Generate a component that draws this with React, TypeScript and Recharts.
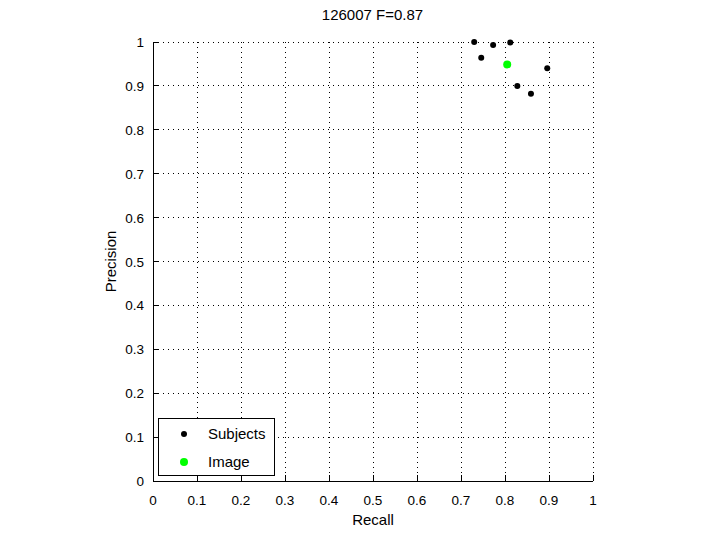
import React from 'react';
import { ScatterChart, Scatter, XAxis, YAxis, CartesianGrid, Legend } from 'recharts';

const subjectRecall = [0.73, 0.773, 0.812, 0.746, 0.896, 0.828, 0.859];
const subjectPrecision = [1.0, 0.993, 0.999, 0.964, 0.94, 0.9, 0.882];
const imageRecall = [0.805];
const imagePrecision = [0.949];
const axisTicks = [0, 0.1, 0.2, 0.3, 0.4, 0.5, 0.6, 0.7, 0.8, 0.9, 1];
const tickLabels = ['0', '0.1', '0.2', '0.3', '0.4', '0.5', '0.6', '0.7', '0.8', '0.9', '1'];
const titleText = '126007 F=0.87';
const legendOrder = ['Subjects', 'Image'];

const subjects = subjectRecall.map((x, i) => ({ x, y: subjectPrecision[i] }));
const image = imageRecall.map((x, i) => ({ x, y: imagePrecision[i] }));

const FONT = '"Liberation Sans", Arial, Helvetica, sans-serif';

const labelFor = (v: number) => tickLabels[axisTicks.indexOf(v)] ?? String(v);

const BottomTick = (p: any) => (
  <g>
    <line x1={p.x} x2={p.x} y1={p.y} y2={p.y - 6} stroke="#000" shapeRendering="crispEdges" />
    <text x={p.x} y={p.y + 24} textAnchor="middle" fontSize={13.5} fontFamily={FONT} fill="#000">
      {labelFor(p.payload.value)}
    </text>
  </g>
);
const LeftTick = (p: any) => (
  <g>
    <line x1={p.x} x2={p.x + 6} y1={p.y} y2={p.y} stroke="#000" shapeRendering="crispEdges" />
    <text x={p.x - 9} y={p.y + 5} textAnchor="end" fontSize={13.5} fontFamily={FONT} fill="#000">
      {labelFor(p.payload.value)}
    </text>
  </g>
);
const TopTick = (p: any) => (
  <line x1={p.x} x2={p.x} y1={p.y} y2={p.y + 6} stroke="#000" shapeRendering="crispEdges" />
);
const RightTick = (p: any) => (
  <line x1={p.x} x2={p.x - 6} y1={p.y} y2={p.y} stroke="#000" shapeRendering="crispEdges" />
);

const markerR: Record<string, number> = { Subjects: 3, Image: 4 };

const LegendBox = (props: any) => {
  const payload = [...(props.payload || [])].sort(
    (a: any, b: any) => legendOrder.indexOf(a.value) - legendOrder.indexOf(b.value)
  );
  return (
    <div
      style={{
        width: 117,
        height: 58,
        boxSizing: 'border-box',
        border: '1px solid #000',
        background: '#fff',
        position: 'relative',
        fontFamily: FONT,
        fontSize: 15,
      }}
    >
      {payload.map((e: any, i: number) => (
        <div key={i} style={{ position: 'absolute', left: 0, top: 4 + i * 28, height: 22, width: 115 }}>
          <svg width={40} height={22} style={{ position: 'absolute', left: 0, top: 0 }}>
            <circle cx={25} cy={11} r={markerR[e.value] || 3} fill={e.color} />
          </svg>
          <span style={{ position: 'absolute', left: 49, top: 2, color: '#000', lineHeight: '18px' }}>{e.value}</span>
        </div>
      ))}
    </div>
  );
};

export default function App() {
  return (
    <div style={{ position: 'absolute', left: 0, top: 0, width: 720, height: 540, background: '#fff' }}>
      <div
        style={{
          position: 'absolute',
          left: 0,
          width: 745,
          top: 6,
          textAlign: 'center',
          fontFamily: FONT,
          fontSize: 15,
          color: '#000',
        }}
      >
        {titleText}
      </div>
      <ScatterChart width={720} height={540} margin={{ top: 42, right: 127, bottom: 0, left: 0 }}>
        <CartesianGrid stroke="#000" strokeDasharray="1 4" shapeRendering="crispEdges" />
        <XAxis
          xAxisId={0}
          type="number"
          dataKey="x"
          domain={[0, 1]}
          ticks={axisTicks}
          interval={0}
          height={59}
          tickSize={0}
          tickMargin={0}
          tick={<BottomTick />}
          axisLine={{ stroke: '#000', shapeRendering: 'crispEdges' }}
          tickLine={false}
          label={{
            content: (lp: any) => {
              const vb = lp.viewBox || {};
              return (
                <text x={vb.x + vb.width / 2} y={vb.y + 44} textAnchor="middle" fontSize={15} fontFamily={FONT} fill="#000">
                  Recall
                </text>
              );
            },
          }}
        />
        <XAxis
          xAxisId="top"
          orientation="top"
          type="number"
          dataKey="x"
          domain={[0, 1]}
          ticks={axisTicks}
          interval={0}
          height={0}
          tickSize={0}
          tickMargin={0}
          tick={<TopTick />}
          axisLine={{ stroke: '#000', shapeRendering: 'crispEdges' }}
          tickLine={false}
        />
        <YAxis
          yAxisId={0}
          type="number"
          dataKey="y"
          domain={[0, 1]}
          ticks={axisTicks}
          interval={0}
          width={153}
          tickSize={0}
          tickMargin={0}
          tick={<LeftTick />}
          axisLine={{ stroke: '#000', shapeRendering: 'crispEdges' }}
          tickLine={false}
          label={{
            content: (lp: any) => {
              const vb = lp.viewBox || {};
              const cx = 116;
              const cy = vb.y + vb.height / 2;
              return (
                <text x={cx} y={cy} transform={`rotate(-90 ${cx} ${cy})`} textAnchor="middle" fontSize={15} fontFamily={FONT} fill="#000">
                  Precision
                </text>
              );
            },
          }}
        />
        <YAxis
          yAxisId="right"
          orientation="right"
          type="number"
          dataKey="y"
          domain={[0, 1]}
          ticks={axisTicks}
          interval={0}
          width={0}
          tickSize={0}
          tickMargin={0}
          tick={<RightTick />}
          axisLine={{ stroke: '#000', shapeRendering: 'crispEdges' }}
          tickLine={false}
        />
        <Legend
          layout="horizontal"
          verticalAlign="middle"
          align="center"
          content={<LegendBox />}
          wrapperStyle={{ left: 158, top: 418, width: 117, height: 58 }}
        />
        <Scatter
          name="Subjects"
          data={subjects}
          fill="#000"
          isAnimationActive={false}
          shape={(p: any) => <circle cx={p.cx} cy={p.cy} r={3} fill="#000" />}
        />
        <Scatter
          name="Image"
          data={image}
          fill="#00ff00"
          isAnimationActive={false}
          shape={(p: any) => <circle cx={p.cx} cy={p.cy} r={4} fill="#00ff00" />}
        />
      </ScatterChart>
    </div>
  );
}
